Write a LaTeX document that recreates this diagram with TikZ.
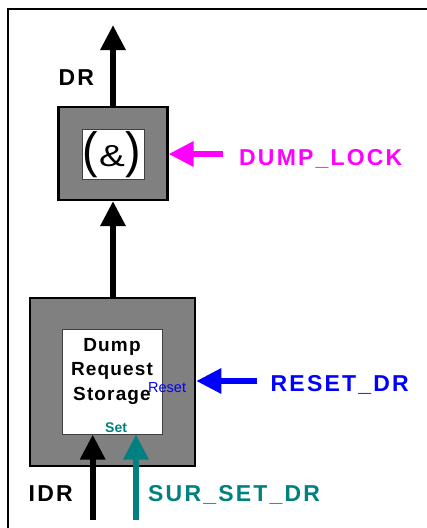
\documentclass[tikz,border=0pt]{standalone}
\usepackage{fontspec}
\setmainfont{Liberation Sans}
\usetikzlibrary{arrows.meta}
\definecolor{boxgray}{HTML}{808080}
\definecolor{rimgray}{HTML}{404040}
\definecolor{sigteal}{HTML}{008080}
\definecolor{sigmag}{HTML}{FF00FF}
\definecolor{sigblue}{HTML}{0000FF}
\newfontfamily\spaced[LetterSpace=9.5]{Liberation Sans}
\newfontfamily\blockfont[LetterSpace=6]{Liberation Sans}
\tikzset{
  outerbox/.style={draw=black, line width=2.5pt, fill=boxgray, inner sep=0pt},
  innerbox/.style={draw=rimgray, line width=1pt, fill=white, inner sep=0pt},
  sig/.style={line width=6pt, -{Triangle[length=25pt,width=24pt]}},
  siglabel/.style={inner sep=0pt, anchor=base west, font=\spaced\bfseries\fontsize{23}{23}\selectfont},
  pinlabel/.style={inner sep=0pt, anchor=base west},
}
\begin{document}
\begin{tikzpicture}[x=1pt,y=-1pt]
\useasboundingbox (0,0) rectangle (427,528);
\clip (0,0) rectangle (427,528);
% page frame, running off the right and bottom edges
\draw[line width=2.6pt] (8,9) rectangle (460,560);

% AND gate
\node[outerbox, minimum width=109pt, minimum height=93pt] (gate) at (112.8,153.3) {};
\node[innerbox, minimum width=62pt, minimum height=50pt] (gatein) at (113,154) {};
\node[inner sep=0pt, anchor=base] (amp) at (112,166.5) {\fontsize{31}{31}\selectfont\raisebox{-1pt}{\scalebox{1.5}[1.6]{(}}\hspace{0.02em}\scalebox{1.25}[0.98]{\&}\hspace{0.02em}\raisebox{-1pt}{\scalebox{1.5}[1.6]{)}}};

% storage block
\node[outerbox, minimum width=165pt, minimum height=168pt] (store) at (112.5,382) {};
\node[innerbox, minimum width=100pt, minimum height=105pt] (storein) at (112.7,381.5) {};
\node[inner sep=0pt, align=center, font=\blockfont\bfseries\fontsize{19}{24.2}\selectfont, anchor=base] (storetxt) at (112,400) {Dump\\Request\\Storage};
\node[pinlabel, text=sigblue, font=\fontsize{14.5}{14.5}\selectfont] (rst) at (148,392) {Reset};
\node[pinlabel, text=sigteal, font=\bfseries\fontsize{14}{14}\selectfont] (setp) at (105,432.3) {Set};

% free ends of the signal lines
\coordinate (drtop) at (113,25);
\coordinate (dlsrc) at (222.5,154);
\coordinate (rsrc) at (257,381);
\coordinate (idrsrc) at (92.7,520);
\coordinate (setsrc) at (136,520);

% signal lines
\draw[sig] (gate.north -| drtop) -- (drtop);
\draw[sig] (store.north -| drtop) -- (gate.south -| drtop);
\draw[sig, sigmag] (dlsrc) -- (dlsrc -| gate.east);
\draw[sig, sigblue] (rsrc) -- (rsrc -| store.east);
\draw[sig] (idrsrc) -- (idrsrc |- storein.south);
\draw[sig, sigteal] (setsrc) -- (setsrc |- storein.south);

% signal names
\node[siglabel] (drl) at (58.5,85) {DR};
\node[siglabel, text=sigmag] (dll) at (239,165) {DUMP\_LOCK};
\node[siglabel, text=sigblue] (rsl) at (270.5,391) {RESET\_DR};
\node[siglabel] (idrl) at (28.5,501) {IDR};
\node[siglabel, text=sigteal] (ssl) at (148,501) {SUR\_SET\_DR};
\end{tikzpicture}
\end{document}
